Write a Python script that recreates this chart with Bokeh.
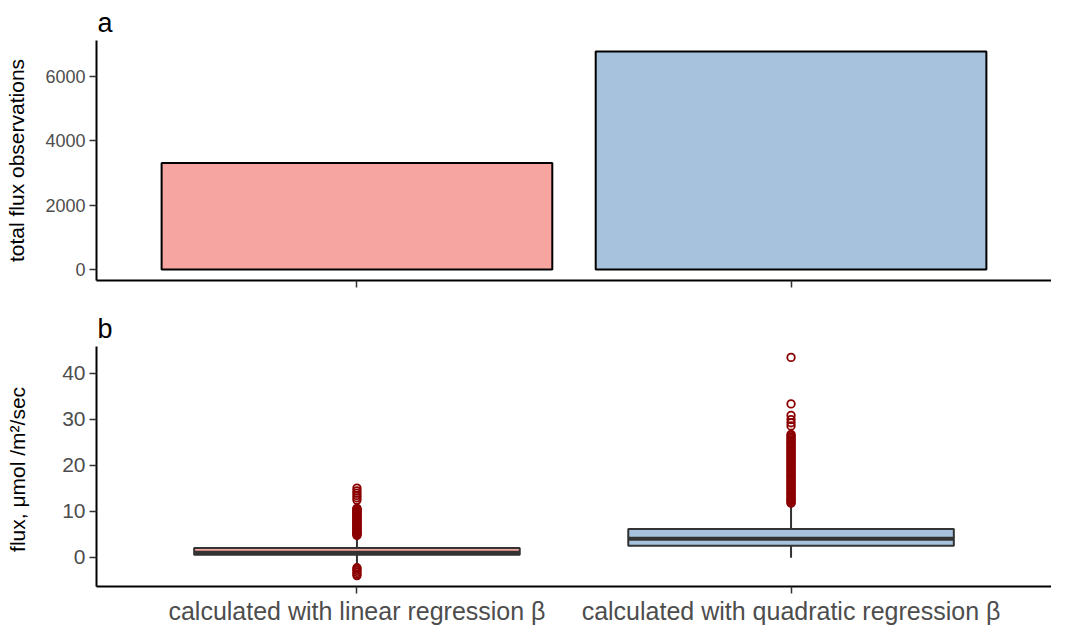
from bokeh.plotting import figure
from bokeh.models import FactorRange, Range1d, FixedTicker, ColumnDataSource, CustomLabelingPolicy
from bokeh.layouts import column
from bokeh.embed import file_html
from bokeh.resources import INLINE

# ---- data ----
categories = ["calculated with linear regression \u03b2", "calculated with quadratic regression \u03b2"]
total_obs = [3310, 6780]
colors = ["#F6A5A0", "#A7C2DD"]

q1 = [0.55, 2.5]
median = [0.95, 4.0]
q3 = [2.0, 6.1]
whisker_low = [-1.5, -0.1]
whisker_high = [4.5, 11.4]

outliers_linear = [-4.0, -3.7, -3.3, -2.9, -2.6, -2.3,
                   4.7, 4.9, 5.1, 5.2, 5.4, 5.6, 5.8, 6.0, 6.1, 6.3, 6.5, 6.7, 6.9, 7.0,
                   7.2, 7.4, 7.6, 7.8, 8.0, 8.1, 8.3, 8.5, 8.7, 8.9, 9.1, 9.3, 9.5,
                   9.7, 9.9, 10.1, 10.3, 10.5, 10.6,
                   12.4, 12.9, 13.4, 13.9, 14.4, 15.0]
outliers_quadratic = [11.7, 11.9, 12.2, 12.4, 12.7, 12.9, 13.2, 13.5, 13.7, 14.0, 14.3, 14.6,
                      14.9, 15.1, 15.4, 15.7, 16.0, 16.3, 16.5, 16.8, 17.1, 17.4, 17.7,
                      17.9, 18.2, 18.5, 18.8, 19.1, 19.3, 19.6, 19.9, 20.2, 20.5, 20.7,
                      21.0, 21.3, 21.6, 21.9, 22.1, 22.4, 22.7, 23.0, 23.3, 23.5, 23.8,
                      24.1, 24.4, 24.7, 24.9, 25.2, 25.5, 25.8, 26.1, 26.4, 26.7,
                      28.5, 29.2, 29.9, 30.8, 33.3, 43.4]

FONT = "Liberation Sans"
TICK_COLOR = "#4D4D4D"


def style(p, yticks):
    p.outline_line_color = None
    p.xgrid.grid_line_color = None
    p.ygrid.grid_line_color = None
    p.background_fill_color = "white"
    p.border_fill_color = "white"
    for ax in (p.xaxis[0], p.yaxis[0]):
        ax.axis_line_color = "black"
        ax.axis_line_width = 2
        ax.major_tick_line_color = "#333333"
        ax.major_tick_line_width = 1.5
        ax.major_tick_out = 7
        ax.major_tick_in = 0
        ax.minor_tick_line_color = None
        ax.major_label_text_font = FONT
        ax.major_label_text_color = TICK_COLOR
        ax.axis_label_text_font = FONT
        ax.axis_label_text_font_style = "normal"
        ax.axis_label_text_color = "black"
    p.yaxis.ticker = FixedTicker(ticks=yticks)
    p.yaxis.axis_label_text_font_size = "21px"
    p.yaxis.major_label_standoff = 4
    p.title.text_font = FONT
    p.title.text_font_size = "27px"
    p.title.text_font_style = "normal"
    p.title.align = "left"
    p.title.offset = 1
    p.title.standoff = 6
    p.title.text_color = "black"


# ---- panel a ----
ymax_a = max(total_obs)
pa = figure(x_range=FactorRange(factors=categories, range_padding=0.1, range_padding_units="percent"),
            y_range=Range1d(-0.05 * ymax_a, 1.05 * ymax_a),
            width=1051, height=306, title="a",
            output_backend="svg", toolbar_location=None,
            min_border_left=96, min_border_right=0, min_border_top=40, min_border_bottom=26)
src_a = ColumnDataSource(dict(x=categories, top=total_obs, color=colors))
pa.vbar(x="x", top="top", bottom=0, width=0.9, fill_color="color", line_color="black",
        line_width=2, source=src_a)
style(pa, [0, 2000, 4000, 6000])
pa.yaxis.axis_label = "total flux observations"
pa.yaxis.major_label_text_font_size = "18px"
pa.yaxis.axis_label_standoff = 14
pa.xaxis.major_label_policy = CustomLabelingPolicy(code="return new Set()")
pa.xaxis.major_label_standoff = 0

# ---- panel b ----
all_vals = outliers_linear + outliers_quadratic + whisker_low + whisker_high
lo, hi = min(all_vals), max(all_vals)
span = hi - lo
pb = figure(x_range=pa.x_range,
            y_range=Range1d(lo - 0.05 * span, hi + 0.05 * span),
            width=1051, height=321, title="b",
            output_backend="svg", toolbar_location=None,
            min_border_left=96, min_border_right=0, min_border_top=40, min_border_bottom=41)
src_b = ColumnDataSource(dict(x=categories, q1=q1, q3=q3, med=median, lo=whisker_low,
                              hi=whisker_high, color=colors))
pb.segment(x0="x", y0="q3", x1="x", y1="hi", line_color="#333333", line_width=2, source=src_b)
pb.segment(x0="x", y0="q1", x1="x", y1="lo", line_color="#333333", line_width=2, source=src_b)
pb.vbar(x="x", top="q3", bottom="q1", width=0.75, fill_color="color", line_color="#333333",
        line_width=2, source=src_b)
pb.rect(x="x", y="med", width=0.75, height=4, height_units="screen", fill_color="#333333",
        line_color=None, source=src_b)
ox = [categories[0]] * len(outliers_linear) + [categories[1]] * len(outliers_quadratic)
oy = outliers_linear + outliers_quadratic
pb.scatter(x=ox, y=oy, marker="circle", size=7.5, fill_color=None, line_color="#8B0000",
           line_width=1.8)
style(pb, [0, 10, 20, 30, 40])
pb.yaxis.axis_label = "flux,  \u03bcmol /m\u00b2/sec"
pb.yaxis.major_label_text_font_size = "21px"
pb.yaxis.axis_label_standoff = 30
pb.xaxis.major_label_text_font_size = "25px"
pb.xaxis.major_label_standoff = 3

layout = column(pa, pb, spacing=0)
open("out.html", "w").write(file_html(layout, INLINE))
